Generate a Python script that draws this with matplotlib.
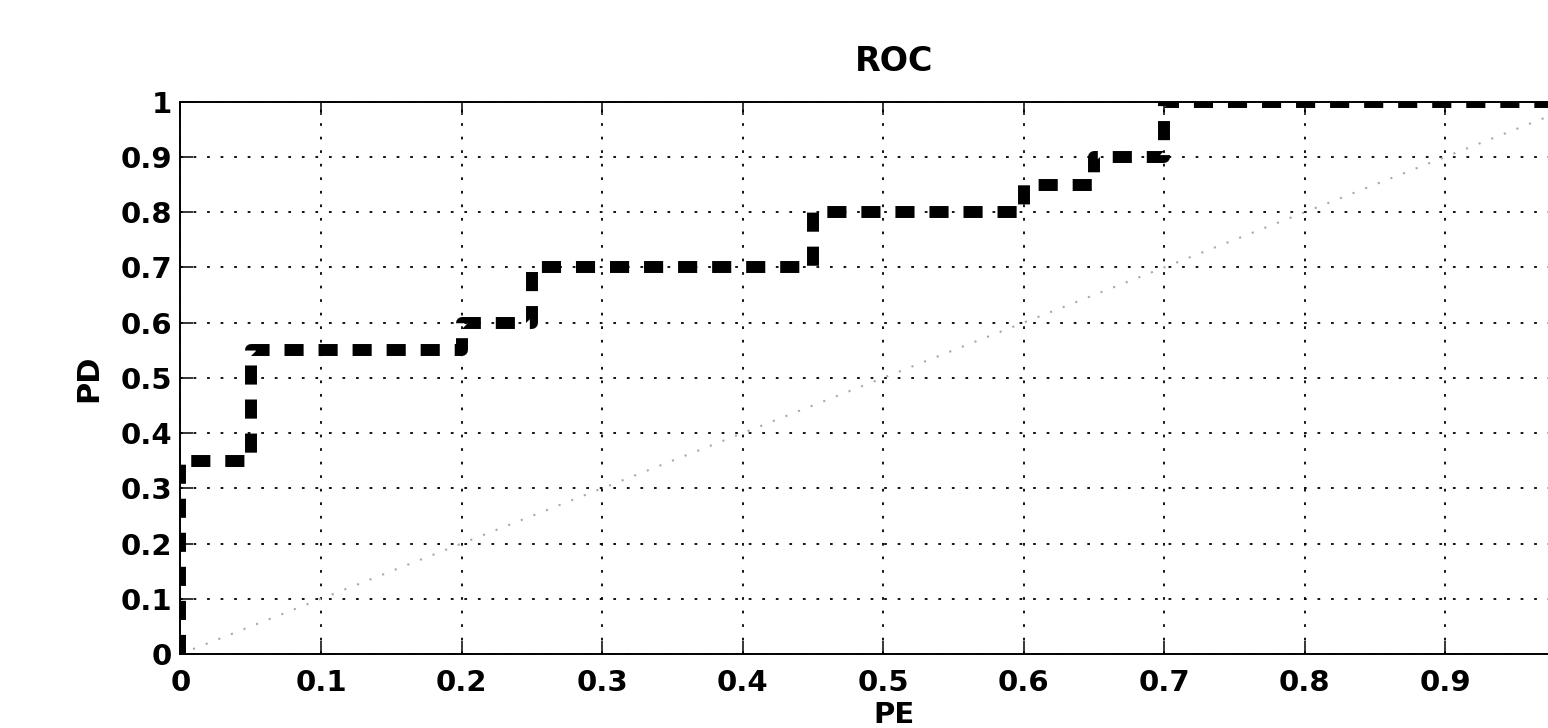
import numpy as np
import matplotlib
matplotlib.use("Agg")
import matplotlib.pyplot as plt

# ROC curve (step shape)
pf = [0, 0, 0.05, 0.05, 0.2, 0.2, 0.25, 0.25, 0.45, 0.45, 0.6, 0.6, 0.65, 0.65, 0.7, 0.7, 1.0]
pd = [0, 0.35, 0.35, 0.55, 0.55, 0.6, 0.6, 0.7, 0.7, 0.8, 0.8, 0.85, 0.85, 0.9, 0.9, 1.0, 1.0]

# chance line
chance_x = [0, 1]
chance_y = [0, 1]

# x = 1 falls just past the right edge of the picture, so it has no label there
xticks = [0, 0.1, 0.2, 0.3, 0.4, 0.5, 0.6, 0.7, 0.8, 0.9]
xtick_labels = ["0", "0.1", "0.2", "0.3", "0.4", "0.5", "0.6", "0.7", "0.8", "0.9"]
yticks = [0, 0.1, 0.2, 0.3, 0.4, 0.5, 0.6, 0.7, 0.8, 0.9, 1]
ytick_labels = ["0", "0.1", "0.2", "0.3", "0.4", "0.5", "0.6", "0.7", "0.8", "0.9", "1"]

plt.rcParams['font.family'] = ['DejaVu Sans']
plt.rcParams['font.weight'] = 'bold'

fig = plt.figure(figsize=(15.48, 7.28), dpi=100)
ax = fig.add_axes([0.1166, 0.1016, 0.9078, 0.7587])

ax.plot(chance_x, chance_y, color='#a8a8a8', lw=1.5, linestyle=(0, (1.0, 5.5)))
ax.plot(pf, pd, color='black', lw=8.6, linestyle=(0, (1.6, 1.25)),
        dash_capstyle='butt', solid_joinstyle='miter')

ax.set_xlim(0, 1)
ax.set_ylim(0, 1)
ax.set_xticks(xticks)
ax.set_xticklabels(xtick_labels)
ax.set_yticks(yticks)
ax.set_yticklabels(ytick_labels)

ax.grid(True, color='black', lw=1.3, linestyle=(0, (1.5, 6)))
ax.tick_params(axis='both', direction='in', length=9.4, width=1.1,
               labelsize=21, top=True, right=True)
ax.tick_params(axis='x', pad=11)
ax.tick_params(axis='y', pad=6)
for s in ax.spines.values():
    s.set_linewidth(1.4)

ax.set_title("ROC", fontsize=24, fontweight='bold', pad=22, x=0.508)
ax.set_xlabel("PE", fontsize=21, fontweight='bold', labelpad=3, x=0.508)
ax.set_ylabel("PD", fontsize=22, fontweight='bold', labelpad=12)

fig.savefig("out.png", dpi=100)
